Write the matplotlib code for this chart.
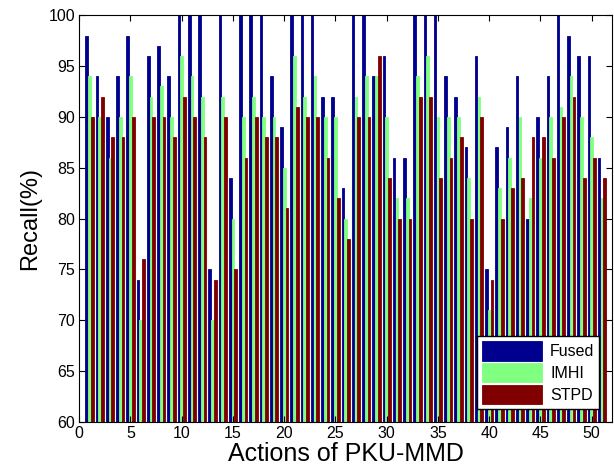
import matplotlib
matplotlib.use("Agg")
import matplotlib.pyplot as plt
import numpy as np

plt.rcParams["font.family"] = ["Liberation Sans", "DejaVu Sans"]

# recall per action (1..51) for each method
fused = [98, 94, 90, 94, 98, 74, 96, 97, 94, 100,
         100, 100, 75, 100, 84, 100, 100, 100, 94, 89,
         100, 100, 100, 92, 92, 83, 100, 100, 94, 96,
         86, 86, 100, 100, 100, 94, 92, 87, 96, 75,
         87, 89, 94, 80, 90, 94, 100, 98, 96, 96,
         86]
imhi = [94, 90, 86, 90, 94, 70, 92, 93, 90, 96,
        94, 92, 70, 92, 80, 90, 92, 90, 90, 85,
        96, 92, 94, 90, 90, 80, 92, 94, 94, 90,
        82, 82, 94, 96, 90, 90, 90, 84, 92, 71,
        83, 86, 90, 82, 86, 90, 91, 94, 90, 88,
        82]
stpd = [90, 92, 88, 88, 90, 76, 90, 90, 88, 92,
        90, 88, 74, 90, 75, 86, 90, 88, 88, 81,
        91, 90, 90, 86, 82, 78, 90, 90, 96, 84,
        80, 80, 92, 92, 84, 86, 88, 80, 90, 74,
        80, 83, 84, 88, 88, 86, 90, 92, 84, 86,
        84]

series = [("Fused", fused, "#00008F"),
          ("IMHI", imhi, "#80FF80"),
          ("STPD", stpd, "#800000")]

fig = plt.figure(figsize=(6.14, 4.74), dpi=100)
ax = fig.add_axes([0.129, 0.110, 0.868, 0.858])

x = np.arange(1, len(fused) + 1)
w = 0.26
for i, (name, vals, col) in enumerate(series):
    ax.bar(x + (i - 1) * 0.27, vals, width=w, color=col, edgecolor=col,
           linewidth=0.6, label=name)

ax.set_xlim(0, 52)
ax.set_ylim(60, 100)
ax.set_xticks(np.arange(0, 51, 5))
ax.set_yticks(np.arange(60, 101, 5))
ax.tick_params(direction="in", top=True, right=True, labelsize=11.5, length=4, pad=3)
ax.set_xlabel("Actions of PKU-MMD", fontsize=18, labelpad=1)
ax.set_ylabel("Recall(%)", fontsize=17, labelpad=5)
for s in ax.spines.values():
    s.set_linewidth(0.8)

leg = ax.legend(loc="lower right", fontsize=11.5, handlelength=3.8, handleheight=1.5,
                fancybox=False, edgecolor="black", framealpha=1,
                borderaxespad=0.8, labelspacing=0.15, handletextpad=0.5,
                borderpad=0.3)
leg.get_frame().set_linewidth(1.0)

fig.savefig("out.png", dpi=100)
